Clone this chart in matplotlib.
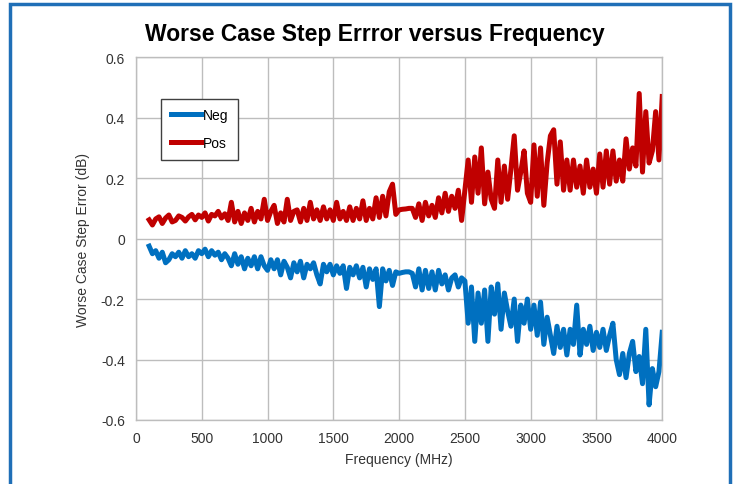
import numpy as np
import matplotlib
matplotlib.use("Agg")
import matplotlib.pyplot as plt
from matplotlib.patches import Rectangle
from matplotlib.ticker import FuncFormatter

plt.rcParams['font.family'] = ['Liberation Sans', 'DejaVu Sans']
plt.rcParams['axes.unicode_minus'] = False

# frequency grid (MHz), 25 MHz steps
freq = np.arange(100, 4001, 25)

# Pos series (dB)
pos = [
    0.062, 0.045, 0.065, 0.072, 0.050, 0.068, 0.078, 0.055, 0.060, 0.075,   # 100-325
    0.070, 0.058, 0.072, 0.080, 0.062, 0.078, 0.070, 0.085, 0.058, 0.080,   # 350-575
    0.075, 0.090, 0.068, 0.082, 0.060,                                      # 600-700
    0.120, 0.055, 0.090, 0.050, 0.085, 0.060, 0.100, 0.055, 0.090, 0.065,   # 725-950
    0.130, 0.060, 0.090, 0.110, 0.050, 0.085, 0.055, 0.130, 0.060, 0.090,   # 975-1200
    0.095, 0.055, 0.100, 0.060, 0.120, 0.065, 0.095, 0.060, 0.105, 0.065,   # 1225-1450
    0.095, 0.060, 0.120, 0.065, 0.090, 0.060, 0.105, 0.060, 0.100, 0.065,   # 1475-1700
    0.125, 0.060, 0.100, 0.065, 0.135, 0.070, 0.140, 0.075, 0.155, 0.180,   # 1725-1950
    0.080, 0.095, 0.097, 0.098, 0.100, 0.100,                               # 1975-2100
    0.070, 0.115, 0.060, 0.120, 0.075, 0.110, 0.070, 0.135, 0.085, 0.150,   # 2125-2350
    0.090, 0.140, 0.100, 0.160, 0.060, 0.160,                               # 2375-2500
    0.260, 0.120, 0.270, 0.150, 0.300, 0.115, 0.220, 0.130, 0.100, 0.260,   # 2525-2750
    0.120, 0.240, 0.130, 0.230, 0.340, 0.160, 0.220, 0.290, 0.150, 0.120,   # 2775-3000
    0.310, 0.140, 0.300, 0.110, 0.250, 0.340, 0.360, 0.180, 0.320, 0.160,   # 3025-3250
    0.260, 0.160, 0.260, 0.170, 0.240, 0.150, 0.260, 0.170, 0.230, 0.150,   # 3275-3500
    0.280, 0.170, 0.290, 0.180, 0.290, 0.190, 0.260, 0.190, 0.330, 0.230,   # 3525-3750
    0.300, 0.240, 0.480, 0.220, 0.420, 0.250, 0.290, 0.420, 0.260, 0.470,   # 3775-4000
]

# Neg series (dB)
neg = [
    -0.025, -0.050, -0.040, -0.065, -0.045, -0.080, -0.070, -0.050, -0.060, -0.045,
    -0.065, -0.040, -0.060, -0.050, -0.065, -0.040, -0.050, -0.035, -0.060, -0.040,
    -0.055, -0.045, -0.070, -0.050, -0.065,
    -0.090, -0.050, -0.085, -0.060, -0.100, -0.065, -0.090, -0.060, -0.100, -0.060,
    -0.090, -0.105, -0.070, -0.100, -0.070, -0.120, -0.075, -0.095, -0.130, -0.080,
    -0.110, -0.075, -0.130, -0.085, -0.100, -0.080, -0.120, -0.150, -0.085, -0.110,
    -0.085, -0.120, -0.090, -0.115, -0.090, -0.165, -0.095, -0.120, -0.090, -0.130,
    -0.095, -0.160, -0.100, -0.135, -0.100, -0.225, -0.100, -0.140, -0.105, -0.155,
    -0.110, -0.115, -0.112, -0.110, -0.110, -0.115,
    -0.160, -0.100, -0.170, -0.105, -0.165, -0.110, -0.170, -0.105, -0.150, -0.120,
    -0.170, -0.130, -0.120, -0.160, -0.130, -0.140,
    -0.280, -0.160, -0.340, -0.180, -0.280, -0.170, -0.340, -0.160, -0.250, -0.150,
    -0.300, -0.180, -0.240, -0.290, -0.200, -0.340, -0.220, -0.280, -0.200, -0.300,
    -0.220, -0.320, -0.210, -0.350, -0.260, -0.320, -0.380, -0.290, -0.360, -0.300,
    -0.385, -0.300, -0.350, -0.220, -0.385, -0.300, -0.350, -0.290, -0.370, -0.310,
    -0.360, -0.300, -0.370, -0.320, -0.280, -0.400, -0.450, -0.380, -0.460, -0.380,
    -0.340, -0.440, -0.390, -0.480, -0.300, -0.550, -0.430, -0.490, -0.440, -0.310,
]

series_names = ['Neg', 'Pos']
series_colors = ['#0070C0', '#C00000']

fig = plt.figure(figsize=(7.35, 4.85), dpi=100)
ax = fig.add_axes([0.185, 0.132, 0.716, 0.748])

ax.plot(freq, neg, color=series_colors[0], lw=3.6, label=series_names[0], solid_joinstyle='round')
ax.plot(freq, pos, color=series_colors[1], lw=3.6, label=series_names[1], solid_joinstyle='round')

ax.set_xlim(0, 4000)
ax.set_ylim(-0.6, 0.6)
ax.set_xticks(np.arange(0, 4001, 500))
ax.set_yticks(np.arange(-0.6, 0.61, 0.2))
ax.yaxis.set_major_formatter(FuncFormatter(lambda v, p: '0' if abs(v) < 1e-9 else f'{v:.1f}'))
ax.grid(True, color='#BDBDBD', lw=1.0)
ax.set_axisbelow(True)
for s in ax.spines.values():
    s.set_color('#BDBDBD')
    s.set_linewidth(1.0)
ax.tick_params(length=0, labelsize=10, colors='#333333', pad=8)

ax.set_xlabel('Frequency (MHz)', fontsize=10, color='#333333', labelpad=5)
ax.set_ylabel('Worse Case Step Error (dB)', fontsize=10, color='#333333', labelpad=8)

fig.text(0.51, 0.928, 'Worse Case Step Errror versus Frequency', ha='center', va='center',
         fontsize=16.5, fontweight='bold', color='black')

leg = ax.legend(loc='upper left', bbox_to_anchor=(0.034, 0.905), fancybox=False,
                edgecolor='#404040', fontsize=10, handlelength=2.2, handletextpad=0.1,
                labelspacing=1.0, borderpad=0.7, framealpha=1)
leg.get_frame().set_linewidth(1.0)

# blue frame around the chart (bottom edge cut off)
fig.patches.append(Rectangle((0.013, -0.05), 0.98, 1.04, transform=fig.transFigure,
                             fill=False, edgecolor='#1F6FB7', lw=2.5))

fig.savefig('out.png', dpi=100)
